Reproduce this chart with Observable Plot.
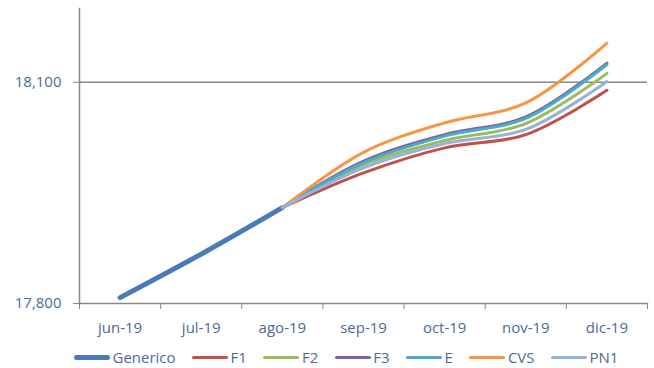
<!DOCTYPE html>
<html><head><meta charset="utf-8">
<script src="https://cdn.jsdelivr.net/npm/d3@7"></script>
<script src="https://cdn.jsdelivr.net/npm/@observablehq/plot@0.6"></script>
<style>
body{margin:0;background:#fff;font-family:"Open Sans",sans-serif;}
#chart svg{display:block;}
#legend{display:flex;align-items:center;height:28px;padding-top:3px;padding-left:74px;font-size:15px;color:#4e6a94;}
#legend .item{display:flex;align-items:center;margin-right:16.5px;}
#legend .sw{display:inline-block;width:36px;border-radius:3px;margin-right:2.5px;}
</style></head><body>
<div id="chart"></div>
<div id="legend"></div>
<script>
const months = ["jun-19","jul-19","ago-19","sep-19","oct-19","nov-19","dic-19"];
const yTicks = [17800, 18100];
const seriesNames = ["Generico","F1","F2","F3","E","CVS","PN1"];
const seriesColors = ["#4a7ab8","#c0504d","#9bbb59","#8064a2","#4bacc6","#f79646","#95b3d7"];
const seriesWidths = [5, 3, 3, 3, 3, 3, 3];
const generico = [17808, 17867, 17930, null, null, null, null];
const f1  = [null, null, 17930, 17977, 18011, 18029, 18089];
const f2  = [null, null, 17930, 17988, 18021, 18044, 18112];
const f3  = [null, null, 17930, 17993, 18029, 18053, 18126];
const e   = [null, null, 17930, 17991, 18027, 18051, 18124];
const cvs = [null, null, 17930, 18005, 18045, 18072, 18153];
const pn1 = [null, null, 17930, 17984, 18017, 18036, 18101];
const seriesValues = [generico, f1, f2, f3, e, cvs, pn1];

const textColor = "#4e6a94";
const axisColor = "#878787";

const lineMarks = seriesNames.map((name, k) => {
  const rows = seriesValues[k].map((v, i) => ({i, v})).filter(d => d.v != null);
  return Plot.line(rows, {x: "i", y: "v", stroke: seriesColors[k], strokeWidth: seriesWidths[k], curve: "catmull-rom", strokeLinecap: "round"});
});

const chart = Plot.plot({
  width: 654, height: 340,
  marginLeft: 79, marginRight: 7, marginTop: 8, marginBottom: 37,
  style: {fontFamily: "'Open Sans', sans-serif", fontSize: "15px", background: "#fff"},
  x: {domain: [-0.5, months.length - 0.5]},
  y: {domain: [17800, 18200]},
  marks: [
    Plot.ruleY(yTicks.slice(1), {stroke: axisColor, strokeWidth: 1.3}),
    Plot.axisY({ticks: yTicks, tickFormat: d3.format(","), tickSize: 6, tickPadding: 12, stroke: axisColor, fill: textColor, label: null, fontSize: 15}),
    Plot.axisX({ticks: d3.range(-0.5, months.length, 1), tickSize: 6, tickFormat: () => "", stroke: axisColor, label: null}),
    Plot.axisX({ticks: d3.range(months.length), tickSize: 0, tickPadding: 19, tickFormat: i => months[i], fill: textColor, label: null, fontSize: 15}),
    Plot.frame({anchor: "left", stroke: axisColor, strokeWidth: 1.5}),
    Plot.frame({anchor: "bottom", stroke: axisColor, strokeWidth: 1.5}),
    ...lineMarks
  ]
});
document.getElementById("chart").appendChild(chart);

const legend = document.getElementById("legend");
seriesNames.forEach((name, k) => {
  const it = document.createElement("span");
  it.className = "item";
  const sw = document.createElement("span");
  sw.className = "sw";
  sw.style.background = seriesColors[k];
  sw.style.height = seriesWidths[k] + "px";
  it.appendChild(sw);
  it.appendChild(document.createTextNode(name));
  legend.appendChild(it);
});
</script>
</body></html>
